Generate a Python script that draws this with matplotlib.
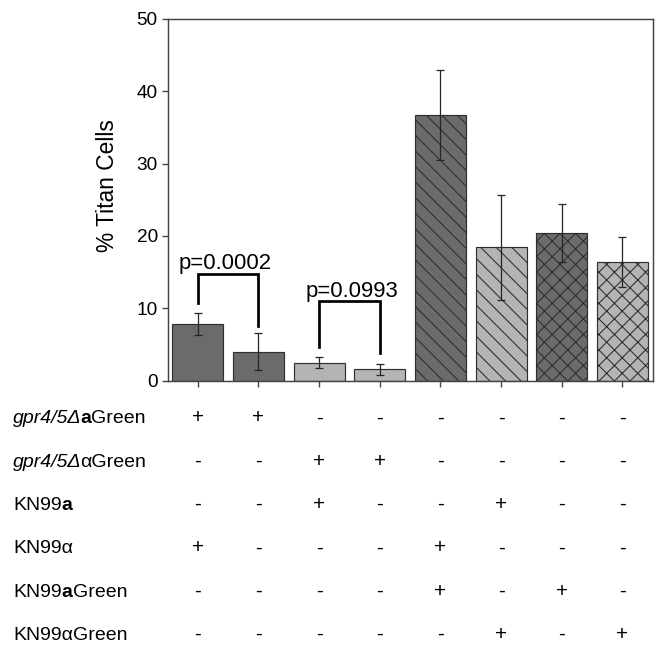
#!/usr/bin/env python3
import matplotlib
matplotlib.use("Agg")
import matplotlib.pyplot as plt
import matplotlib.transforms as mtransforms

plt.rcParams['font.family'] = ['Liberation Sans', 'DejaVu Sans']
plt.rcParams['hatch.linewidth'] = 0.55
plt.rcParams['hatch.color'] = '#2a2a2a'

# Titan cell percentages (mean and error) for the 8 co-cultures
means = [7.8, 4.0, 2.5, 1.55, 36.7, 18.4, 20.4, 16.45]
errors = [1.5, 2.55, 0.8, 0.75, 6.2, 7.3, 4.05, 3.45]
bar_colors = ['#6b6b6b', '#6b6b6b', '#b4b4b4', '#b4b4b4',
              '#6b6b6b', '#b4b4b4', '#6b6b6b', '#b4b4b4']
hatches = ['', '', '', '', '\\\\\\', '\\\\\\', 'xxx', 'xxx']

# significance brackets: (left bar, right bar, left leg bottom, right leg bottom, top, label)
brackets = [(0, 1, 10.8, 7.55, 14.7, 'p=0.0002'),
            (2, 3, 4.7, 3.87, 11.05, 'p=0.0993')]
label_y = [15.45, 11.55]
label_x_shift = [-0.05, 0.04]

# strain table under the chart
row_labels = [
    [('gpr4/5Δ', 'italic', 'normal'), ('a', 'normal', 'bold'), ('Green', 'normal', 'normal')],
    [('gpr4/5Δ', 'italic', 'normal'), ('αGreen', 'normal', 'normal')],
    [('KN99', 'normal', 'normal'), ('a', 'normal', 'bold')],
    [('KN99α', 'normal', 'normal')],
    [('KN99', 'normal', 'normal'), ('a', 'normal', 'bold'), ('Green', 'normal', 'normal')],
    [('KN99αGreen', 'normal', 'normal')],
]
row_signs = [
    ['+', '+', '-', '-', '-', '-', '-', '-'],
    ['-', '-', '+', '+', '-', '-', '-', '-'],
    ['-', '-', '+', '-', '-', '+', '-', '-'],
    ['+', '-', '-', '-', '+', '-', '-', '-'],
    ['-', '-', '-', '-', '+', '-', '+', '-'],
    ['-', '-', '-', '-', '-', '+', '-', '+'],
]
row_baselines_px = [423.3, 466.7, 510.0, 553.3, 596.7, 640.0]

DPI = 140
W, H = 661, 645
fig = plt.figure(figsize=(W / DPI, H / DPI), dpi=DPI)
ax = fig.add_axes([168.3 / W, 1 - 380.7 / H, (652.7 - 168.3) / W, (380.7 - 18.7) / H])

x = list(range(len(means)))
ax.bar(x, means, width=0.84, color=bar_colors, edgecolor='#2e2e2e',
       linewidth=0.6, hatch=hatches, zorder=2)
ax.errorbar(x, means, yerr=errors, fmt='none', ecolor='#262626',
            elinewidth=0.65, capsize=2.3, capthick=0.65, zorder=3)

for (b0, b1, lo0, lo1, top, txt), ty, dx in zip(brackets, label_y, label_x_shift):
    ax.plot([b0, b0, b1, b1], [lo0, top, top, lo1], color='black', lw=1.4,
            solid_joinstyle='miter', zorder=4)
    ax.text((b0 + b1) / 2 + dx, ty, txt, ha='center', va='baseline', fontsize=11.4)

ax.set_xlim(-0.485, 7.5)
ax.set_ylim(0, 50)
ax.set_yticks(range(0, 51, 10))
ax.set_xticks(x)
ax.set_xticklabels([])
ax.tick_params(axis='both', direction='out', length=2.9, width=0.7,
               color='#444444', labelsize=9.8, pad=2.5)
for s in ax.spines.values():
    s.set_color('#444444')
    s.set_linewidth(0.75)

ax.set_ylabel('% Titan Cells', fontsize=11.7)
ax.yaxis.set_label_coords(-0.102, 0.54)

# table rows: labels built from styled pieces, signs under each bar
renderer = fig.canvas.get_renderer()
sign_tr = mtransforms.blended_transform_factory(ax.transData, fig.transFigure)
fs_table = 10.0
for pieces, signs, base in zip(row_labels, row_signs, row_baselines_px):
    yf = 1 - base / H
    offset = 0.0
    for txt, style, weight in pieces:
        tr = mtransforms.offset_copy(fig.transFigure, fig=fig, x=offset, y=0, units='dots')
        t = fig.text(13 / W, yf, txt, transform=tr, fontsize=fs_table,
                     style=style, weight=weight, ha='left', va='baseline')
        offset += t.get_window_extent(renderer=renderer).width
        if style == 'italic':
            offset -= 1.0
    for xi, s in zip(x, signs):
        fig.text(xi, yf, s, transform=sign_tr, fontsize=fs_table + 0.6,
                 ha='center', va='baseline')

fig.savefig('out.png', dpi=DPI)
